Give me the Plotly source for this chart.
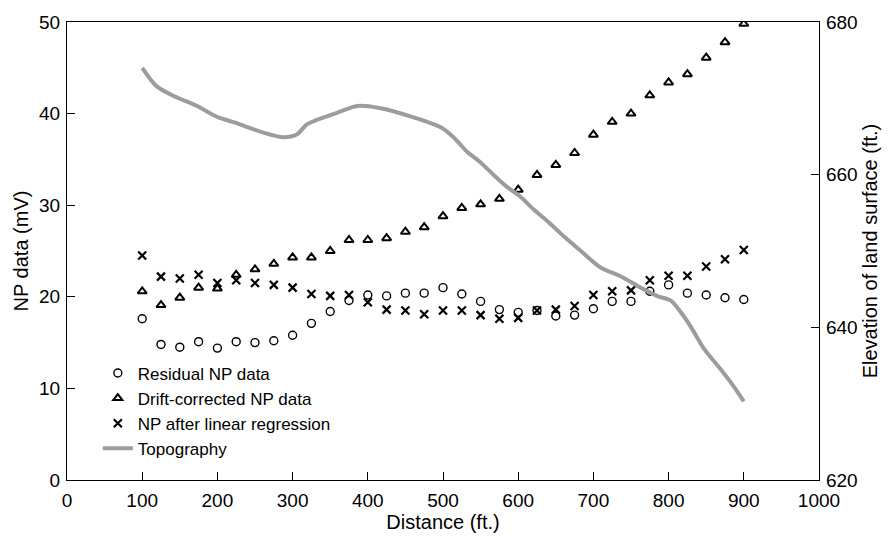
import plotly.graph_objects as go

distance = [100, 125, 150, 175, 200, 225, 250, 275, 300, 325, 350, 375, 400, 425, 450,
            475, 500, 525, 550, 575, 600, 625, 650, 675, 700, 725, 750, 775, 800, 825,
            850, 875, 900]

residual = [17.6, 14.8, 14.5, 15.1, 14.4, 15.1, 15.0, 15.2, 15.8, 17.1, 18.4, 19.6, 20.2,
            20.1, 20.4, 20.4, 21.0, 20.3, 19.5, 18.6, 18.3, 18.5, 17.9, 18.0, 18.7, 19.5,
            19.5, 20.6, 21.3, 20.4, 20.2, 19.9, 19.7]

drift_corrected = [20.6, 19.1, 19.9, 21.0, 20.9, 22.4, 23.0, 23.6, 24.3, 24.3, 25.0, 26.2,
                   26.2, 26.4, 27.1, 27.6, 28.8, 29.7, 30.1, 30.7, 31.7, 33.3, 34.4, 35.7,
                   37.7, 39.1, 40.0, 42.0, 43.4, 44.3, 46.1, 47.8, 49.8]

after_regression = [24.5, 22.2, 22.0, 22.4, 21.5, 21.8, 21.5, 21.3, 21.0, 20.3, 20.1, 20.2,
                    19.4, 18.6, 18.5, 18.1, 18.5, 18.5, 18.0, 17.6, 17.7, 18.5, 18.6, 19.0,
                    20.2, 20.6, 20.7, 21.8, 22.3, 22.3, 23.3, 24.1, 25.1]

topo_distance = [100, 119, 142, 173, 199, 230, 261, 288, 306, 319, 333, 359, 386, 417,
                 461, 497, 514, 532, 550, 568, 585, 603, 621, 639, 661, 681, 710, 736,
                 763, 785, 803, 816, 830, 847, 870, 887, 900]
topo_elevation = [674.0, 671.6, 670.3, 669.0, 667.6, 666.6, 665.5, 664.9, 665.3, 666.6,
                  667.2, 668.1, 669.0, 668.7, 667.5, 666.2, 664.9, 663.0, 661.6, 659.9,
                  658.4, 657.1, 655.4, 653.9, 651.9, 650.2, 647.8, 646.7, 645.2, 644.1,
                  643.5, 642.0, 640.0, 637.2, 634.4, 632.2, 630.3]

FONT = "Liberation Sans, Arial, sans-serif"

fig = go.Figure()
fig.add_trace(go.Scatter(
    x=distance, y=residual, mode="markers", name="Residual NP data",
    marker=dict(symbol="circle-open", size=8, color="black", line=dict(width=1.4, color="black"))))
fig.add_trace(go.Scatter(
    x=distance, y=drift_corrected, mode="markers", name="Drift-corrected NP data",
    marker=dict(symbol="triangle-up-open", size=8, color="black", line=dict(width=2, color="black"))))
fig.add_trace(go.Scatter(
    x=distance, y=after_regression, mode="markers", name="NP after linear regression",
    marker=dict(symbol="x-thin-open", size=8, color="black", line=dict(width=2.2, color="black"))))
fig.add_trace(go.Scatter(
    x=topo_distance, y=topo_elevation, mode="lines", name="Topography", yaxis="y2",
    line=dict(color="#9c9c9c", width=4, shape="spline", smoothing=0.8)))

fig.update_layout(
    width=894, height=538,
    margin=dict(l=67, r=75, t=22, b=54),
    paper_bgcolor="white", plot_bgcolor="white",
    font=dict(family=FONT, size=19, color="black"),
    showlegend=True,
    legend=dict(x=0.041, y=0.272, xanchor="left", yanchor="top",
                bgcolor="rgba(0,0,0,0)", font=dict(size=17, family=FONT, color="black"),
                tracegroupgap=0, itemwidth=30),
    xaxis=dict(range=[0, 1000], dtick=100, tick0=0, ticks="inside", ticklen=8,
               tickwidth=1, tickcolor="black", showline=True, linecolor="black",
               linewidth=1.2, mirror=True, showgrid=False, zeroline=False,
               ticklabelstandoff=3,
               title=dict(text="Distance (ft.)", standoff=1,
                          font=dict(size=20, family=FONT, color="black")),
               tickfont=dict(size=19, family=FONT, color="black")),
    yaxis=dict(range=[0, 50], dtick=10, ticks="inside", ticklen=8, tickwidth=1,
               tickcolor="black", showline=True, linecolor="black", linewidth=1.2,
               showgrid=False, zeroline=False, ticklabelstandoff=2,
               title=dict(text="NP data (mV)", standoff=4,
                          font=dict(size=20, family=FONT, color="black")),
               tickfont=dict(size=19, family=FONT, color="black")),
    yaxis2=dict(range=[620, 680], dtick=20, overlaying="y", side="right",
                ticks="inside", ticklen=8, tickwidth=1, tickcolor="black",
                showline=True, linecolor="black", linewidth=1.2, showgrid=False,
                zeroline=False, ticklabelstandoff=2,
                title=dict(text="Elevation of land surface (ft.)", standoff=6,
                           font=dict(size=20, family=FONT, color="black")),
                tickfont=dict(size=19, family=FONT, color="black")),
)

fig.write_html("out.html")
